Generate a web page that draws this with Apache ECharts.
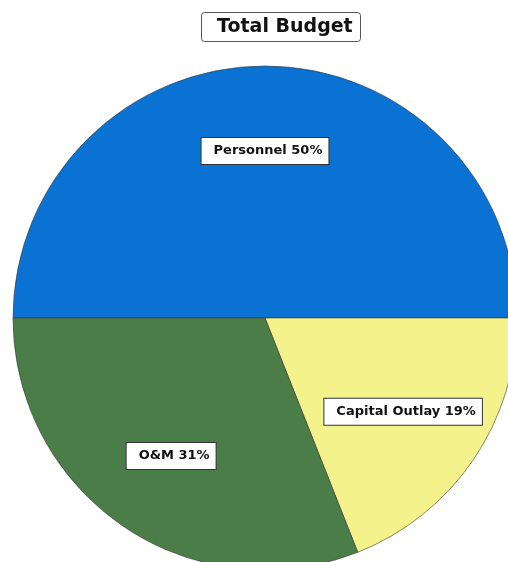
<!DOCTYPE html>
<html><head><meta charset="utf-8">
<script src="https://cdn.jsdelivr.net/npm/echarts@6/dist/echarts.min.js"></script>
<style>html,body{margin:0;padding:0;background:#fff}#c{width:508px;height:562px}</style>
</head><body><div id="c"></div>
<script>
const categories = ['Personnel', 'Capital Outlay', 'O&M'];
const values = [50, 19, 31];
const colors = ['#0a72d2', '#f4f28a', '#4a7d48'];
const titleText = 'Total Budget';

const data = categories.map((c, i) => ({ name: c, value: values[i], itemStyle: { color: colors[i] } }));
const labelData = categories.map((c, i) => ({ name: c, value: values[i] }));

const chart = echarts.init(document.getElementById('c'));
chart.setOption({
  animation: false,
  title: {
    text: titleText,
    left: 201, top: 12,
    borderColor: '#555', borderWidth: 1, borderRadius: 3,
    padding: [6, 8, 5, 16],
    textStyle: { fontFamily: 'DejaVu Sans', fontWeight: 'bold', fontSize: 19, color: '#111' }
  },
  series: [
    {
      type: 'pie', center: [265, 318], radius: [0, 252], startAngle: 180, clockwise: true,
      silent: true, label: { show: false }, labelLine: { show: false },
      itemStyle: { borderColor: '#3a3a3a', borderWidth: 0.6 },
      data: data
    },
    {
      type: 'pie', center: [265, 318], radius: [76, 252], startAngle: 180, clockwise: true,
      silent: true, itemStyle: { color: 'rgba(0,0,0,0)' },
      label: {
        show: true, position: 'inside',
        formatter: p => p.name + ' ' + p.value + '%',
        fontFamily: 'DejaVu Sans', fontWeight: 'bold', fontSize: 13, color: '#111',
        backgroundColor: '#fff', borderColor: '#333', borderWidth: 1,
        padding: [7, 6, 6, 12]
      },
      labelLine: { show: false },
      data: labelData
    }
  ]
});
</script></body></html>
